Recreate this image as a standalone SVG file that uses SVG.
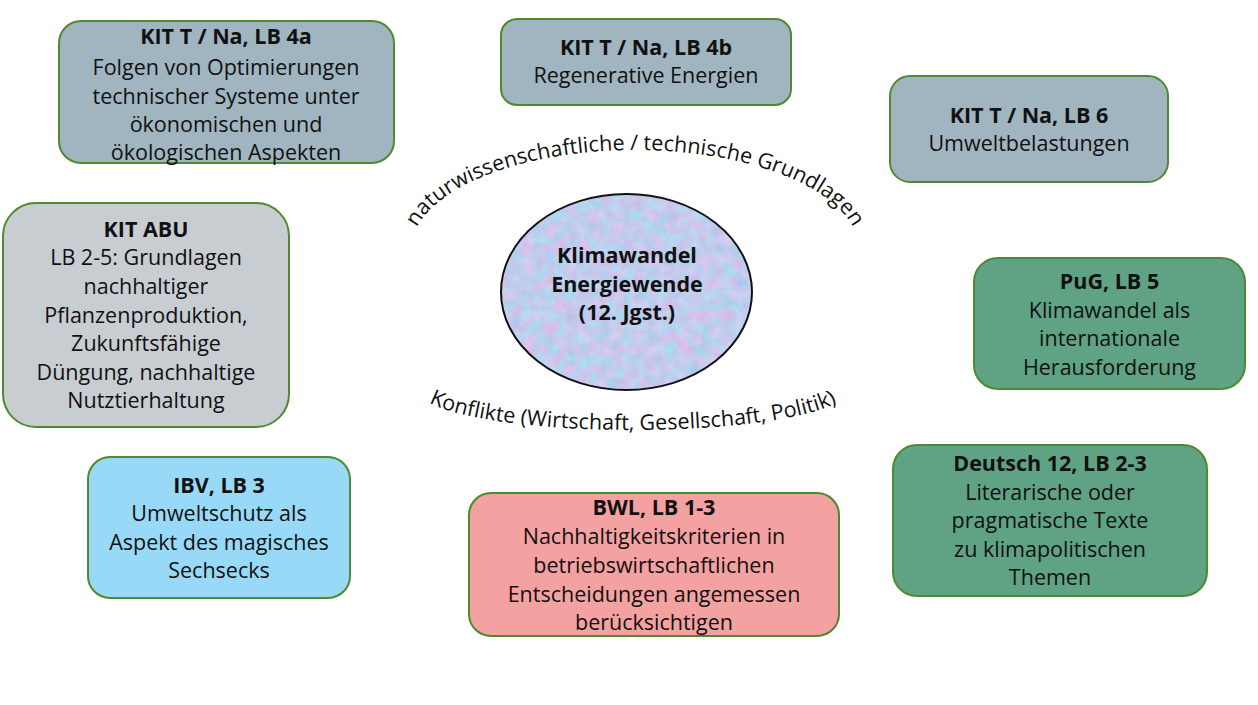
<svg xmlns="http://www.w3.org/2000/svg" width="1258" height="705" viewBox="0 0 1258 705">
<style>
  text { font-family: "Open Sans", "Noto Sans", sans-serif; font-size: 21.5px; fill: #111; text-anchor: middle; }
  .t { font-weight: bold; }
  .box { stroke: #4f8a2f; stroke-width: 2; }
  .kit { fill: #a0b5c0; }
  .abu { fill: #c8cdd2; }
  .grn { fill: #5fa384; }
  .ibv { fill: #97d9f7; }
  .bwl { fill: #f4a2a1; }
  .arc { font-size: 21.5px; }
</style>
<defs>
  <filter id="marble" x="0" y="0" width="100%" height="100%" color-interpolation-filters="sRGB">
    <feTurbulence type="fractalNoise" baseFrequency="0.09" numOctaves="4" seed="7" result="n"/>
    <feColorMatrix in="n" type="matrix" values="0.4 0 0 0 0.56  -0.15 0.15 0 0 0.8  0 0.06 0 0 0.9  0 0 0 0 1" result="c"/>
    <feComposite in="c" in2="SourceGraphic" operator="in"/>
  </filter>
  <path id="arcTop" d="M 411 250 A 224 100 0 0 1 859 250" fill="none"/>
  <path id="arcBot" d="M 418 390 A 215 40 0 0 0 848 390" fill="none"/>
</defs>
<rect width="1258" height="705" fill="#ffffff"/>

<g id="connectors"></g>

<g id="center">
  <ellipse cx="626.5" cy="292" rx="125.5" ry="98" fill="#c4cdee" filter="url(#marble)"/>
  <ellipse cx="626.5" cy="292" rx="125.5" ry="98" fill="none" stroke="#111" stroke-width="2"/>
  <text class="t" x="627" y="263">Klimawandel</text>
  <text class="t" x="627" y="291.5">Energiewende</text>
  <text class="t" x="627" y="320">(12. Jgst.)</text>
</g>

<g id="label-top">
  <text class="arc"><textPath href="#arcTop" startOffset="50%">naturwissenschaftliche / technische Grundlagen</textPath></text>
</g>
<g id="label-bottom">
  <text class="arc"><textPath href="#arcBot" startOffset="50%">Konflikte (Wirtschaft, Gesellschaft, Politik)</textPath></text>
</g>

<g id="kit-4a">
  <rect class="box kit" x="59" y="21" width="335" height="142" rx="22"/>
  <text class="t" x="226" y="44">KIT T / Na, LB 4a</text>
  <text x="226" y="75">Folgen von Optimierungen</text>
  <text x="226" y="103.5">technischer Systeme unter</text>
  <text x="226" y="132">ökonomischen und</text>
  <text x="226" y="160">ökologischen Aspekten</text>
</g>

<g id="kit-4b">
  <rect class="box kit" x="501" y="19" width="290" height="86" rx="16"/>
  <text class="t" x="646" y="55">KIT T / Na, LB 4b</text>
  <text x="646" y="83">Regenerative Energien</text>
</g>

<g id="kit-6">
  <rect class="box kit" x="890" y="76" width="278" height="106" rx="20"/>
  <text class="t" x="1029" y="122.5">KIT T / Na, LB 6</text>
  <text x="1029" y="151">Umweltbelastungen</text>
</g>

<g id="kit-abu">
  <rect class="box abu" x="3" y="203" width="286" height="224" rx="33"/>
  <text class="t" x="146" y="237">KIT ABU</text>
  <text x="146" y="265">LB 2-5: Grundlagen</text>
  <text x="146" y="294">nachhaltiger</text>
  <text x="146" y="322.5">Pflanzenproduktion,</text>
  <text x="146" y="351">Zukunftsfähige</text>
  <text x="146" y="380">Düngung, nachhaltige</text>
  <text x="146" y="408">Nutztierhaltung</text>
</g>

<g id="pug-5">
  <rect class="box grn" x="974" y="258" width="271" height="131" rx="24"/>
  <text class="t" x="1109.5" y="288.5">PuG, LB 5</text>
  <text x="1109.5" y="317.5">Klimawandel als</text>
  <text x="1109.5" y="346">internationale</text>
  <text x="1109.5" y="375">Herausforderung</text>
</g>

<g id="deutsch-12">
  <rect class="box grn" x="893" y="445" width="314" height="151" rx="24"/>
  <text class="t" x="1050" y="471">Deutsch 12, LB 2-3</text>
  <text x="1050" y="499.5">Literarische oder</text>
  <text x="1050" y="528">pragmatische Texte</text>
  <text x="1050" y="556.5">zu klimapolitischen</text>
  <text x="1050" y="585">Themen</text>
</g>

<g id="ibv-3">
  <rect class="box ibv" x="88" y="457" width="262" height="141" rx="22"/>
  <text class="t" x="219" y="493">IBV, LB 3</text>
  <text x="219" y="521">Umweltschutz als</text>
  <text x="219" y="549.5">Aspekt des magisches</text>
  <text x="219" y="578">Sechsecks</text>
</g>

<g id="bwl-1-3">
  <rect class="box bwl" x="469" y="493" width="370" height="143" rx="22"/>
  <text class="t" x="654" y="515">BWL, LB 1-3</text>
  <text x="654" y="544">Nachhaltigkeitskriterien in</text>
  <text x="654" y="572.5">betriebswirtschaftlichen</text>
  <text x="654" y="601.5">Entscheidungen angemessen</text>
  <text x="654" y="630">berücksichtigen</text>
</g>
</svg>
